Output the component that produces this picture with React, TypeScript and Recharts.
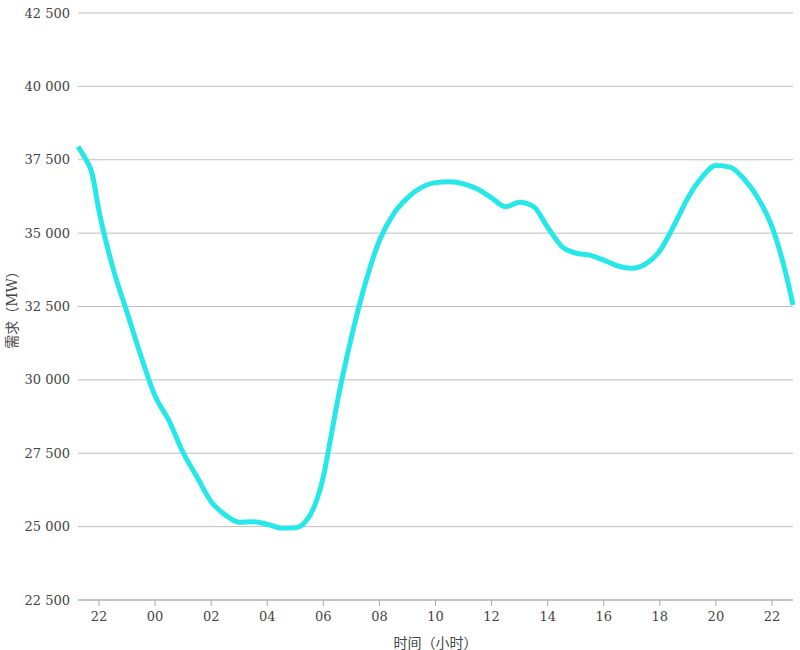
import { LineChart, Line, XAxis, YAxis, CartesianGrid } from "recharts";

// hours relative to midnight (negative = previous evening)
const HOURS = [
  -2.75, -2.5, -2.25, -2, -1.5, -1, -0.5, 0, 0.5, 1, 1.5, 2, 2.5, 3, 3.5, 4, 4.5, 5, 5.5, 6,
  6.25, 6.5, 7, 7.5, 8, 8.5, 9, 9.5, 10, 10.5, 11, 11.5, 12, 12.5, 13, 13.5, 14, 14.5, 15, 15.5, 16,
  16.5, 17, 17.5, 18, 18.5, 19, 19.5, 20, 20.5, 21, 21.5, 22, 22.5, 22.75,
];

const DEMAND = [
  37950, 37560, 37040, 35750, 33800, 32300, 30800, 29450, 28600, 27520, 26680, 25850, 25400, 25150, 25170, 25080, 24950, 24960, 25350, 26700,
  27950, 29250, 31450, 33300, 34750, 35650, 36200, 36560, 36720, 36750, 36680, 36500, 36200, 35900, 36050, 35900, 35200, 34550, 34320, 34250, 34080,
  33880, 33800, 33950, 34400, 35250, 36200, 36900, 37300, 37250, 36850, 36200, 35220, 33600, 32550,
];

const X_TICKS = [-2, 0, 2, 4, 6, 8, 10, 12, 14, 16, 18, 20, 22];
const Y_TICKS = [22500, 25000, 27500, 30000, 32500, 35000, 37500, 40000, 42500];

const data = HOURS.map((h, i) => ({ hour: h, demand: DEMAND[i] }));

const font = "'DejaVu Serif', 'Noto Sans CJK SC', serif";
const tickStyle = { fill: "#444", fontSize: 13, fontFamily: font };

const fmtHour = (h: number) => String(((h % 24) + 24) % 24).padStart(2, "0");
const fmtMW = (v: number) => `${Math.floor(v / 1000)} ${String(v % 1000).padStart(3, "0")}`;

export default function App() {
  return (
    <div style={{ position: "absolute", left: 0, top: 0, width: 800, height: 650, background: "#fff", fontFamily: font }}>
      <LineChart width={800} height={650} data={data} margin={{ top: 13, right: 7, left: 0, bottom: 0 }}>
        <CartesianGrid vertical={false} stroke="#bdbdbd" />
        <XAxis
          dataKey="hour"
          type="number"
          domain={[-2.75, 22.75]}
          ticks={X_TICKS}
          tickFormatter={fmtHour}
          height={50}
          stroke="#aaa"
          tick={tickStyle}
          tickMargin={6}
          label={{ value: "时间（小时）", position: "insideBottom", offset: 2, style: { fill: "#444", fontSize: 14, fontFamily: font } }}
        />
        <YAxis
          type="number"
          domain={[22500, 42500]}
          ticks={Y_TICKS}
          tickFormatter={fmtMW}
          width={78}
          axisLine={false}
          tickLine={false}
          tick={tickStyle}
          label={{
            value: "需求（MW）",
            angle: -90,
            position: "insideLeft",
            offset: 12,
            style: { textAnchor: "middle", fill: "#444", fontSize: 14, fontFamily: font },
          }}
        />
        <Line
          type="monotone"
          dataKey="demand"
          stroke="#26E8E8"
          strokeWidth={5}
          dot={false}
          isAnimationActive={false}
        />
      </LineChart>
    </div>
  );
}
